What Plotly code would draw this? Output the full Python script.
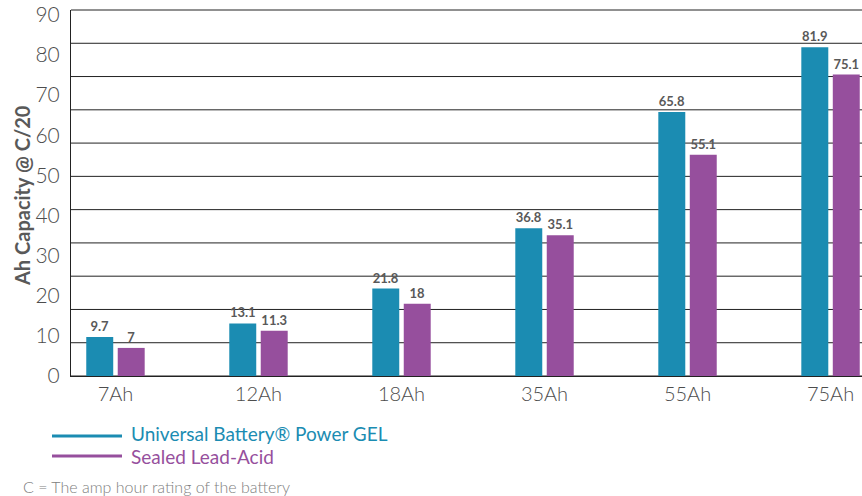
import plotly.graph_objects as go

categories = ["7Ah", "12Ah", "18Ah", "35Ah", "55Ah", "75Ah"]
gel_values = [9.7, 13.1, 21.8, 36.8, 65.8, 81.9]
sla_values = [7, 11.3, 18, 35.1, 55.1, 75.1]
series_names = ["Universal Battery® Power GEL", "Sealed Lead-Acid"]
y_ticks = [0, 10, 20, 30, 40, 50, 60, 70, 80, 90]

BLUE = "#1b8cb2"
PURPLE = "#964f9d"
GRAY = "#595959"
FONT = "Lato"

W, H = 862, 496
L, R, T, B = 71, 0, 10, 120
PW, PH = W - L - R, H - T - B

def px(x):
    return (x - L) / PW

def py(y):
    return (H - B - y) / PH

fig = go.Figure()
for vals, color, name in [(gel_values, BLUE, series_names[0]), (sla_values, PURPLE, series_names[1])]:
    fig.add_trace(go.Bar(
        x=categories, y=vals, name=name, marker=dict(color=color, line=dict(width=0)),
        text=[f"{v:g}" for v in vals], texttemplate="<b>%{text}</b>",
        textposition="outside", constraintext="none", cliponaxis=False,
        textfont=dict(family=FONT, size=13, color=GRAY), showlegend=False,
    ))

shapes = []
# horizontal rule lines (11 bands)
for k in range(12):
    shapes.append(dict(type="line", xref="paper", yref="y domain", x0=0, x1=1,
                       y0=k / 11, y1=k / 11, line=dict(color="#222222", width=1), layer="below"))
# legend lines
for i, color in enumerate([BLUE, PURPLE]):
    yy = py(436 + 20 * i)
    shapes.append(dict(type="line", xref="paper", yref="paper", x0=px(52), x1=px(122),
                       y0=yy, y1=yy, line=dict(color=color, width=3)))

annotations = []
for i, (name, color) in enumerate(zip(series_names, [BLUE, PURPLE])):
    annotations.append(dict(text=name, xref="paper", yref="paper", x=px(129), y=py(433 + 23 * i),
                            xanchor="left", yanchor="middle", showarrow=False,
                            font=dict(family=FONT, size=19, color=color)))
annotations.append(dict(text="C = The amp hour rating of the battery", xref="paper", yref="paper",
                        x=px(21), y=py(486), xanchor="left", yanchor="middle", showarrow=False,
                        font=dict(family=FONT, size=16, color="#808080", weight=300)))
annotations.append(dict(text="<b>Ah Capacity @ C/20</b>", xref="paper", yref="paper",
                        x=px(22), y=py(196), xanchor="center", yanchor="middle", textangle=-90,
                        showarrow=False, font=dict(family=FONT, size=20, color=GRAY)))

fig.update_layout(
    width=W, height=H, margin=dict(l=L, r=R, t=T, b=B),
    paper_bgcolor="white", plot_bgcolor="white",
    barmode="group", bargap=0.56, bargroupgap=0.143,
    shapes=shapes, annotations=annotations,
    xaxis=dict(range=[-0.311, 5.22], showgrid=False, showline=True, linecolor="#222222", linewidth=1,
               ticks="", tickfont=dict(family=FONT, size=20, color="#4d4d4d", weight=300)),
    yaxis=dict(range=[0, 91.2], tickvals=y_ticks, showgrid=False, zeroline=False,
               showline=True, linecolor="#222222", linewidth=1, ticks="",
               ticklabelstandoff=6, tickfont=dict(family=FONT, size=21, color="#4d4d4d", weight=300)),
)

fig.write_html("out.html", config={"displayModeBar": False},
               post_script="document.body.style.margin='0';document.body.style.overflow='hidden';")
